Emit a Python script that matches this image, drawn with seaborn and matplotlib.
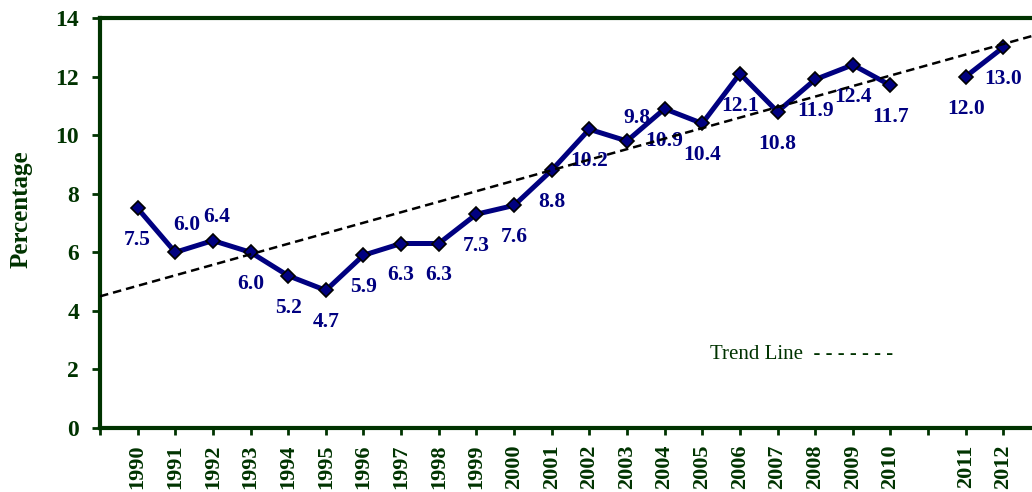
import numpy as np
import pandas as pd
import matplotlib
matplotlib.use('Agg')
import matplotlib.pyplot as plt
import seaborn as sns

# data (blank slot between 2010 and 2011, as in the original chart)
years = ['1990', '1991', '1992', '1993', '1994', '1995', '1996', '1997', '1998',
         '1999', '2000', '2001', '2002', '2003', '2004', '2005', '2006', '2007',
         '2008', '2009', '2010', '', '2011', '2012']
values = [7.5, 6.0, 6.4, 6.0, 5.2, 4.7, 5.9, 6.3, 6.3, 7.3, 7.6, 8.8, 10.2, 9.8,
          10.9, 10.4, 12.1, 10.8, 11.9, 12.4, 11.7, np.nan, 12.0, 13.0]

# label offsets in pixels (default: centred below the point)
label_offsets = {'1991': (12, 27), '1992': (4, 24), '2003': (10, 23)}

navy = '#000080'
green = '#003300'

sns.set_style('white')
plt.rcParams['font.family'] = ['Liberation Serif', 'DejaVu Serif']

df = pd.DataFrame({'year': years, 'value': values})
df['pos'] = np.arange(1, len(df) + 1)
df['segment'] = df['value'].isna().cumsum()
pts = df.dropna()

fig = plt.figure(figsize=(10.32, 4.92), dpi=100)
ax = fig.add_axes([100 / 1032, 64 / 492, 941 / 1032, 410 / 492])

sns.lineplot(
    data=pts, x='pos', y='value', units='segment', estimator=None,
    color=navy, linewidth=3.6, marker='D', markersize=7.5,
    markerfacecolor=navy, markeredgecolor='black', markeredgewidth=1.2,
    ax=ax, zorder=3
)

# trend line
slope, intercept = np.polyfit(pts['pos'], pts['value'], 1)
xt = np.array([0, len(years) + 1])
ax.plot(xt, slope * xt + intercept, color='black', linestyle='--',
        linewidth=1.8, dashes=(3.4, 2.0), zorder=5)

for _, r in pts.iterrows():
    dx, dy = label_offsets.get(r['year'], (0, -32))
    ax.annotate(f"{r['value']:.1f}", (r['pos'], r['value']),
                xytext=(dx, dy), textcoords='offset pixels',
                ha='center', va='center', fontsize=15.5, fontweight='bold',
                color=navy, zorder=4)

ax.text(0.648, 0.18, 'Trend Line  - - - - - - -', transform=ax.transAxes,
        ha='left', va='center', fontsize=15, color=green)

ax.set_xlim(0, len(years) + 1)
ax.set_ylim(0, 14)
ax.set_xticks(np.arange(0, len(years) + 2))
ax.set_xticklabels([''] + years + [''], rotation=90, fontsize=16,
                   fontweight='bold', color=green)
ax.set_yticks(np.arange(0, 15, 2))
ax.set_yticklabels([str(v) for v in range(0, 15, 2)], fontsize=17,
                   fontweight='bold', color=green)
ax.tick_params(axis='x', direction='out', length=5, width=2, color=green,
               pad=7, bottom=True)
ax.tick_params(axis='y', direction='out', length=6, width=2, color=green,
               pad=9, left=True)

ax.set_xlabel('')
ax.set_ylabel('Percentage', fontsize=18, fontweight='bold', color=green)
ax.yaxis.set_label_coords(-0.072, 0.534)

for side in ['left', 'top', 'bottom']:
    ax.spines[side].set_color(green)
    ax.spines[side].set_linewidth(3)
ax.spines['right'].set_visible(False)

fig.savefig('out.png', dpi=100)
